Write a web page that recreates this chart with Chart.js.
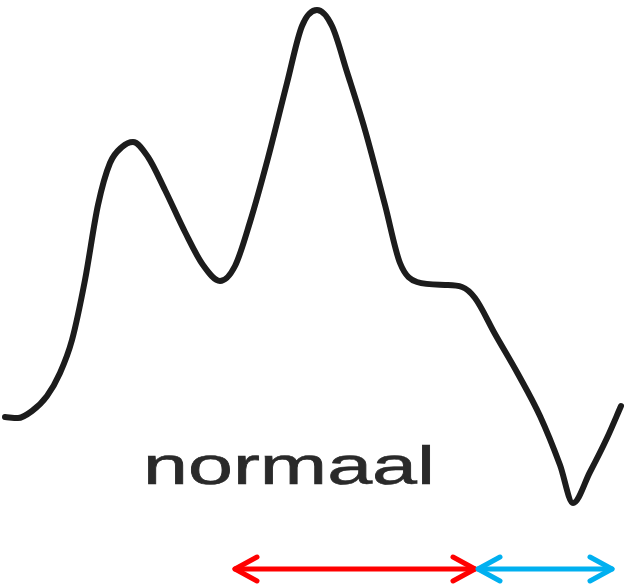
<!DOCTYPE html>
<html>
<head>
<meta charset="utf-8">
<script src="https://cdn.jsdelivr.net/npm/chart.js@4/dist/chart.umd.min.js"></script>
<style>
  html, body { margin: 0; padding: 0; background: #fff; }
  #wrap { width: 628px; height: 586px; }
</style>
</head>
<body>
<div id="wrap"><canvas id="waveChart"></canvas></div>
<script>
// pulse wave (x = time, y = depth, 0 at top)
const waveX = [5, 18, 32, 47, 60, 72, 85, 98, 110, 122, 133, 148, 165, 185, 203, 220, 235, 250, 268, 287,
    302, 317, 332, 347, 365, 385, 400, 417, 445, 462, 475, 495, 518, 540, 560, 573, 590, 607, 621];
const waveY = [417, 418, 411, 396, 373, 340, 280, 205, 163, 147, 142, 157, 190, 232, 265, 281, 266, 222, 158, 83,
    26, 10, 26, 72, 130, 205, 263, 282, 285, 287, 298, 334, 374, 416, 465, 503, 472, 438, 406];

// time spans marked by the arrows under the wave
const redSpan = [235, 475];
const blueSpan = [478, 612];
const arrowLevel = 569;

const label = 'normaal';
const labelSpan = [143, 435];
const labelBase = 484;

const wavePoints = waveX.map((x, i) => ({ x: x, y: waveY[i] }));
const spanPoints = s => s.map(x => ({ x: x, y: arrowLevel }));

const arrowHeads = {
    id: 'arrowHeads',
    afterDatasetsDraw(chart) {
        const ctx = chart.ctx;
        chart.data.datasets.forEach((ds, i) => {
            if (!ds.arrow) return;
            const pts = chart.getDatasetMeta(i).data;
            const a = pts[0], b = pts[pts.length - 1];
            ctx.save();
            ctx.strokeStyle = ds.borderColor;
            ctx.lineWidth = ds.borderWidth;
            ctx.lineCap = 'round';
            ctx.lineJoin = 'round';
            [[a.x, 1], [b.x, -1]].forEach(([tip, dir]) => {
                ctx.beginPath();
                ctx.moveTo(tip + dir * 22, a.y - 12);
                ctx.lineTo(tip, a.y);
                ctx.lineTo(tip + dir * 22, a.y + 12);
                ctx.stroke();
            });
            ctx.restore();
        });
    }
};

const waveLabel = {
    id: 'waveLabel',
    afterDatasetsDraw(chart) {
        const ctx = chart.ctx;
        const xs = chart.scales.x, ys = chart.scales.y;
        const x0 = xs.getPixelForValue(labelSpan[0]);
        const x1 = xs.getPixelForValue(labelSpan[1]);
        const yb = ys.getPixelForValue(labelBase);
        ctx.save();
        ctx.font = '53px "Liberation Sans", Arial, sans-serif';
        ctx.fillStyle = '#2a2a2a';
        ctx.strokeStyle = '#2a2a2a';
        ctx.lineWidth = 0.6;
        ctx.textBaseline = 'alphabetic';
        const w = ctx.measureText(label).width;
        ctx.translate(x0, yb);
        ctx.scale((x1 - x0) / w, 1);
        ctx.fillText(label, 0, 0);
        ctx.strokeText(label, 0, 0);
        ctx.restore();
    }
};

new Chart(document.getElementById('waveChart').getContext('2d'), {
    type: 'scatter',
    data: {
        datasets: [{
            data: wavePoints,
            showLine: true,
            borderColor: '#1c1c1c',
            borderWidth: 6,
            cubicInterpolationMode: 'monotone',
            pointRadius: 0,
            borderCapStyle: 'round',
            borderJoinStyle: 'round'
        }, {
            data: spanPoints(redSpan),
            showLine: true,
            arrow: true,
            borderColor: '#ff0000',
            borderWidth: 5,
            pointRadius: 0,
            borderCapStyle: 'round'
        }, {
            data: spanPoints(blueSpan),
            showLine: true,
            arrow: true,
            borderColor: '#00b0f0',
            borderWidth: 5,
            pointRadius: 0,
            borderCapStyle: 'round'
        }]
    },
    options: {
        responsive: true,
        maintainAspectRatio: false,
        animation: false,
        layout: { padding: 0 },
        plugins: {
            legend: { display: false },
            tooltip: { enabled: false }
        },
        scales: {
            x: { type: 'linear', display: false, min: 0, max: 628 },
            y: { type: 'linear', display: false, min: 0, max: 586, reverse: true }
        }
    },
    plugins: [arrowHeads, waveLabel]
});
</script>
</body>
</html>
